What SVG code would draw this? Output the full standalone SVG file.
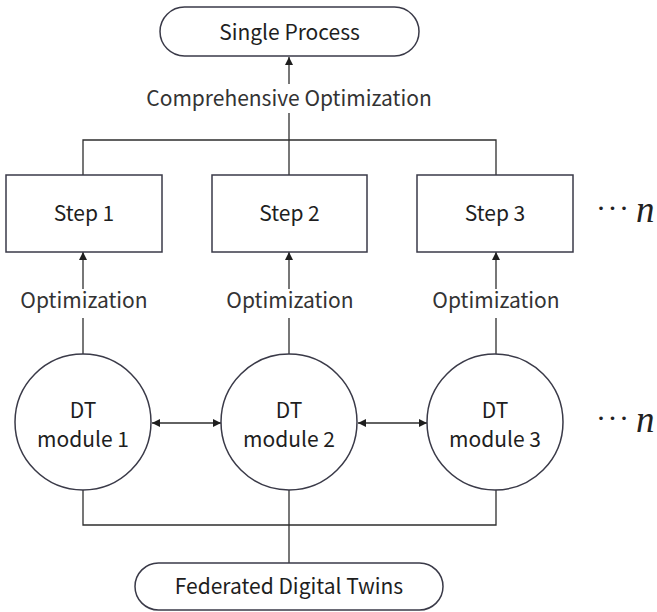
<svg xmlns="http://www.w3.org/2000/svg" width="657" height="612" viewBox="0 0 657 612">
  <style>
    .shape { fill: #ffffff; stroke: #3a3a48; stroke-width: 1.5; }
    .wire { fill: none; stroke: #2e2e2e; stroke-width: 1.3; }
    .label { font-family: "Noto Sans CJK KR", "Noto Sans", sans-serif; font-size: 21px; fill: #1e1e1e; text-anchor: middle; }
    .note { font-family: "Noto Sans CJK KR", "Noto Sans", sans-serif; font-size: 21px; fill: #333333; text-anchor: middle; }
    .dots { font-family: "Liberation Serif", serif; font-size: 30px; fill: #222222; letter-spacing: 1.5px; }
    .var { font-family: "Liberation Serif", serif; font-size: 37px; font-style: italic; fill: #222222; }
  </style>
  <defs>
    <marker id="arrow" viewBox="0 0 10 10" refX="10" refY="5" markerWidth="8" markerHeight="8" markerUnits="userSpaceOnUse" orient="auto-start-reverse">
      <path d="M0,0 L10,5 L0,10 z" fill="#1e1e1e"/>
    </marker>
  </defs>

  <rect width="657" height="612" fill="#ffffff"/>

  <!-- connectors -->
  <g id="connectors">
    <!-- steps joined into the single process -->
    <polyline class="wire" points="83,175 83,140 496,140 496,175"/>
    <line class="wire" x1="289" y1="175" x2="289" y2="113"/>
    <line class="wire" x1="289" y1="84" x2="289" y2="57" marker-end="url(#arrow)"/>
    <!-- module to step optimization -->
    <line class="wire" x1="83" y1="355" x2="83" y2="318"/>
    <line class="wire" x1="83" y1="289" x2="83" y2="252" marker-end="url(#arrow)"/>
    <line class="wire" x1="289" y1="355" x2="289" y2="318"/>
    <line class="wire" x1="289" y1="289" x2="289" y2="252" marker-end="url(#arrow)"/>
    <line class="wire" x1="496" y1="355" x2="496" y2="318"/>
    <line class="wire" x1="496" y1="289" x2="496" y2="252" marker-end="url(#arrow)"/>
    <!-- module to module exchange -->
    <line class="wire" x1="152" y1="423" x2="221" y2="423" marker-start="url(#arrow)" marker-end="url(#arrow)"/>
    <line class="wire" x1="358" y1="423" x2="427" y2="423" marker-start="url(#arrow)" marker-end="url(#arrow)"/>
    <!-- federation bus -->
    <polyline class="wire" points="83,490 83,525 496,525 496,490"/>
    <line class="wire" x1="289" y1="490" x2="289" y2="563"/>
    <!-- edge labels -->
    <text class="note" x="289" y="106">Comprehensive Optimization</text>
    <text class="note" x="84" y="308">Optimization</text>
    <text class="note" x="290" y="308">Optimization</text>
    <text class="note" x="496" y="308">Optimization</text>
  </g>

  <g id="single-process">
    <rect class="shape" x="160" y="7" width="259" height="49" rx="24.5"/>
    <text class="label" x="289.5" y="40">Single Process</text>
  </g>

  <g id="step-1">
    <rect class="shape" x="6" y="175" width="156" height="77"/>
    <text class="label" x="84" y="221">Step 1</text>
  </g>
  <g id="step-2">
    <rect class="shape" x="212" y="175" width="155" height="77"/>
    <text class="label" x="289.5" y="221">Step 2</text>
  </g>
  <g id="step-3">
    <rect class="shape" x="417" y="175" width="156" height="77"/>
    <text class="label" x="495" y="221">Step 3</text>
  </g>
  <g id="steps-more">
    <text class="dots" x="596" y="218">···</text>
    <text class="var" x="636" y="222">n</text>
  </g>

  <g id="dt-module-1">
    <circle class="shape" cx="83" cy="422" r="68"/>
    <text class="label" x="83" y="418">DT</text>
    <text class="label" x="83" y="447">module 1</text>
  </g>
  <g id="dt-module-2">
    <circle class="shape" cx="289" cy="422" r="68"/>
    <text class="label" x="289" y="418">DT</text>
    <text class="label" x="289" y="447">module 2</text>
  </g>
  <g id="dt-module-3">
    <circle class="shape" cx="495" cy="422" r="68"/>
    <text class="label" x="495" y="418">DT</text>
    <text class="label" x="495" y="447">module 3</text>
  </g>
  <g id="modules-more">
    <text class="dots" x="596" y="428">···</text>
    <text class="var" x="636" y="432">n</text>
  </g>

  <g id="federated-digital-twins">
    <rect class="shape" x="135" y="563" width="308" height="47" rx="23.5"/>
    <text class="label" x="289" y="594">Federated Digital Twins</text>
  </g>
</svg>
